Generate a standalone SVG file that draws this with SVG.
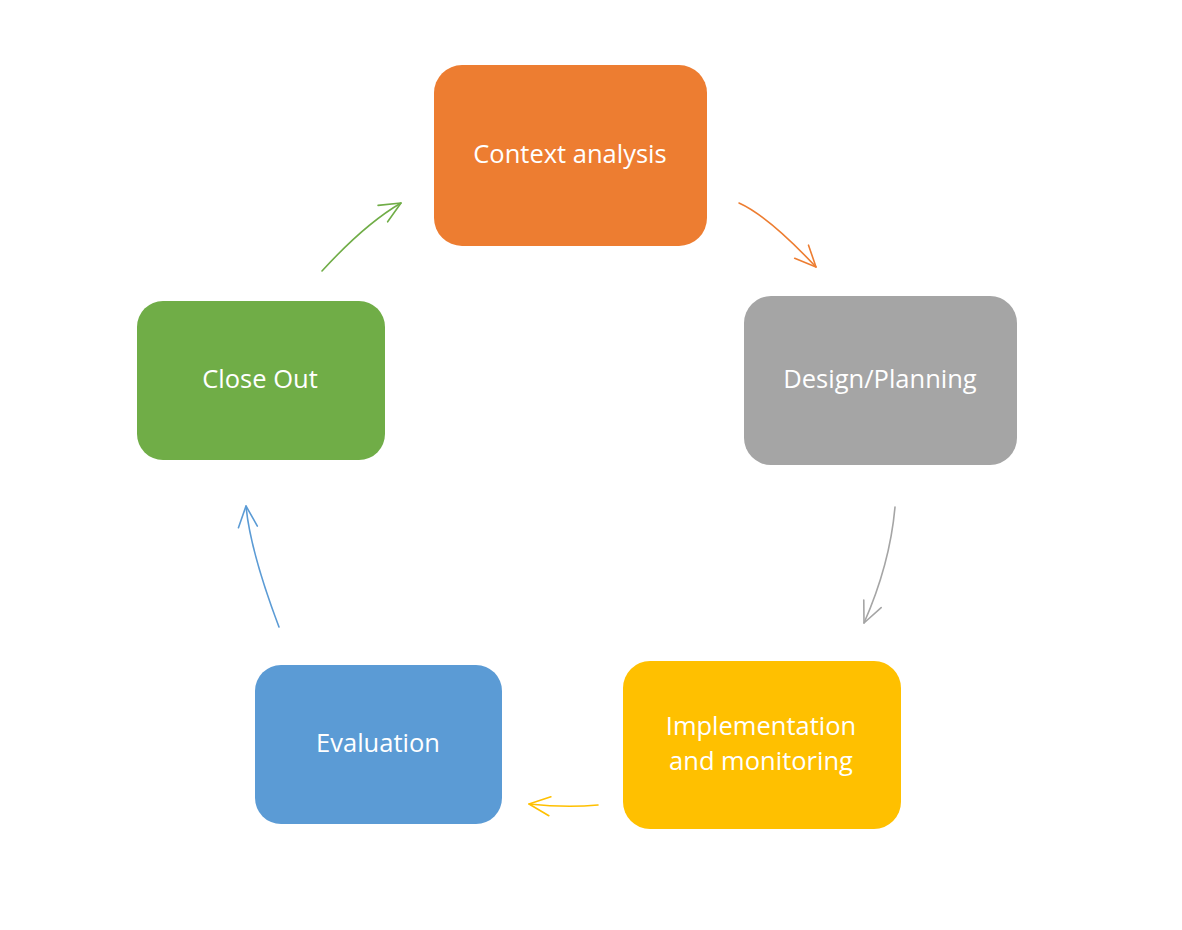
<svg xmlns="http://www.w3.org/2000/svg" width="1182" height="930" viewBox="0 0 1182 930">
<style>
.box{stroke:none}
.lbl{font-family:"Open Sans","Noto Sans","Liberation Sans",sans-serif;font-size:25.5px;font-weight:500;fill:#ffffff;text-anchor:middle;dominant-baseline:central}
.conn{fill:none;stroke-width:1.6;stroke-linecap:round}
</style>
<defs>
<marker id="mo" markerUnits="userSpaceOnUse" viewBox="-24 -12 28 24" markerWidth="28" markerHeight="24" refX="0" refY="0" orient="auto"><path d="M-21,-9.5 L0,0 L-21,9.5" fill="none" stroke="#ED7D31" stroke-width="1.6" stroke-linecap="round" stroke-linejoin="round"/></marker>
<marker id="mg" markerUnits="userSpaceOnUse" viewBox="-24 -12 28 24" markerWidth="28" markerHeight="24" refX="0" refY="0" orient="auto"><path d="M-21,-9.5 L0,0 L-21,9.5" fill="none" stroke="#A5A5A5" stroke-width="1.6" stroke-linecap="round" stroke-linejoin="round"/></marker>
<marker id="my" markerUnits="userSpaceOnUse" viewBox="-24 -12 28 24" markerWidth="28" markerHeight="24" refX="0" refY="0" orient="auto"><path d="M-21,-9.5 L0,0 L-21,9.5" fill="none" stroke="#FFC000" stroke-width="1.6" stroke-linecap="round" stroke-linejoin="round"/></marker>
<marker id="mb" markerUnits="userSpaceOnUse" viewBox="-24 -12 28 24" markerWidth="28" markerHeight="24" refX="0" refY="0" orient="auto"><path d="M-21,-9.5 L0,0 L-21,9.5" fill="none" stroke="#5B9BD5" stroke-width="1.6" stroke-linecap="round" stroke-linejoin="round"/></marker>
<marker id="mgr" markerUnits="userSpaceOnUse" viewBox="-24 -12 28 24" markerWidth="28" markerHeight="24" refX="0" refY="0" orient="auto"><path d="M-21,-9.5 L0,0 L-21,9.5" fill="none" stroke="#70AD47" stroke-width="1.6" stroke-linecap="round" stroke-linejoin="round"/></marker>
</defs>
<rect width="1182" height="930" fill="#ffffff"/>
<g id="connectors">
<path class="conn" stroke="#ED7D31" marker-end="url(#mo)" d="M739,203 Q768,216 816,267"/>
<path class="conn" stroke="#A5A5A5" marker-end="url(#mg)" d="M895,507 Q890,564 864,623"/>
<path class="conn" stroke="#FFC000" marker-end="url(#my)" d="M598,805 Q566,808 529,804"/>
<path class="conn" stroke="#5B9BD5" marker-end="url(#mb)" d="M279,627 Q250,550 246,506"/>
<path class="conn" stroke="#70AD47" marker-end="url(#mgr)" d="M322,271 Q365,224 401,203"/>
</g>
<g id="context-analysis">
<rect class="box" x="434" y="65" width="273" height="181" rx="28" fill="#ED7D31"/>
<text class="lbl" x="570" y="153">Context analysis</text>
</g>
<g id="design-planning">
<rect class="box" x="744" y="296" width="273" height="169" rx="27" fill="#A5A5A5"/>
<text class="lbl" x="880" y="378">Design/Planning</text>
</g>
<g id="implementation">
<rect class="box" x="623" y="661" width="278" height="168" rx="27" fill="#FFC000"/>
<text class="lbl" x="761" y="725">Implementation</text>
<text class="lbl" x="761" y="760">and monitoring</text>
</g>
<g id="evaluation">
<rect class="box" x="255" y="665" width="247" height="159" rx="26" fill="#5B9BD5"/>
<text class="lbl" x="378" y="742">Evaluation</text>
</g>
<g id="close-out">
<rect class="box" x="137" y="301" width="248" height="159" rx="26" fill="#70AD47"/>
<text class="lbl" x="260" y="378">Close Out</text>
</g>
</svg>
